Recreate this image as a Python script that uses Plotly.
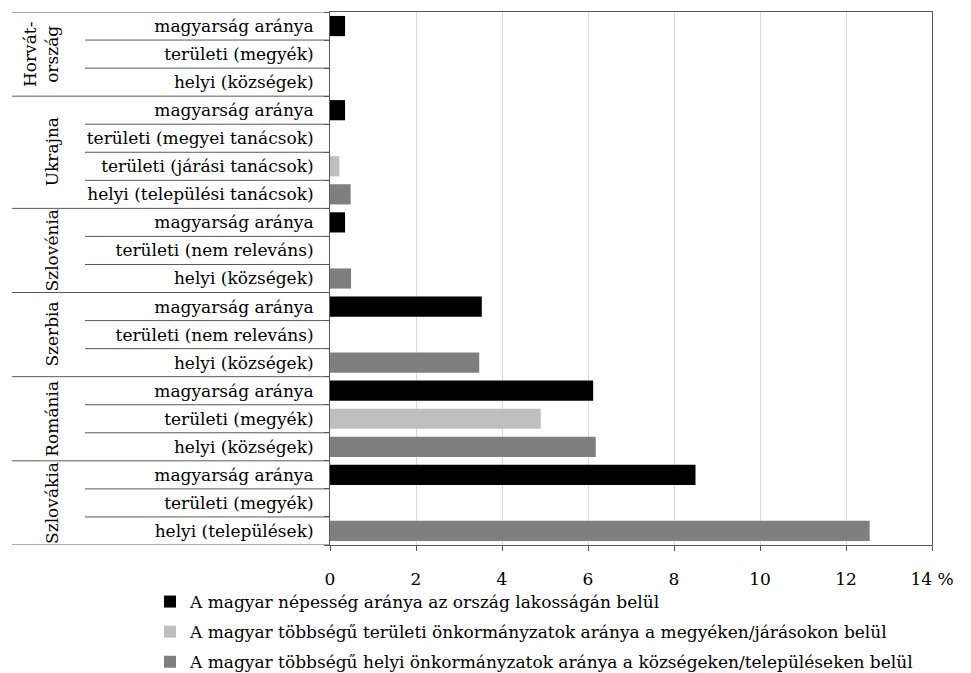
import plotly.graph_objects as go

countries = ["Horvát-<br>ország", "Ukrajna", "Szlovénia", "Szerbia", "Románia", "Szlovákia"]
sub_labels = [
    ["magyarság aránya", "területi (megyék)", "helyi (községek)"],
    ["magyarság aránya", "területi (megyei tanácsok)", "területi (járási tanácsok)", "helyi (települési tanácsok)"],
    ["magyarság aránya", "területi (nem releváns)", "helyi (községek)"],
    ["magyarság aránya", "területi (nem releváns)", "helyi (községek)"],
    ["magyarság aránya", "területi (megyék)", "helyi (községek)"],
    ["magyarság aránya", "területi (megyék)", "helyi (települések)"],
]
# values per row (None = no bar)
pop_share = [
    [0.35, None, None],
    [0.35, None, None, None],
    [0.35, None, None],
    [3.53, None, None],
    [6.12, None, None],
    [8.50, None, None],
]
territorial_share = [
    [None, None, None],
    [None, None, 0.22, None],
    [None, None, None],
    [None, None, None],
    [None, 4.90, None],
    [None, None, None],
]
local_share = [
    [None, None, None],
    [None, None, None, 0.48],
    [None, None, 0.49],
    [None, None, 3.47],
    [None, None, 6.18],
    [None, None, 12.55],
]
series_names = [
    "A magyar népesség aránya az ország lakosságán belül",
    "A magyar többségű területi önkormányzatok aránya a megyéken/járásokon belül",
    "A magyar többségű helyi önkormányzatok aránya a községeken/településeken belül",
]
series_colors = ["#000000", "#bfbfbf", "#7f7f7f"]
x_ticks = [0, 2, 4, 6, 8, 10, 12, 14]
x_ticktext = ["0", "2", "4", "6", "8", "10", "12", "14 %"]

FONT = "DejaVu Serif"
FS = 17
LINE = "#595959"

# flatten rows
labels, rows_pop, rows_ter, rows_loc = [], [], [], []
group_start = []
for g, subs in enumerate(sub_labels):
    group_start.append(len(labels))
    labels += subs
    rows_pop += pop_share[g]
    rows_ter += territorial_share[g]
    rows_loc += local_share[g]
n = len(labels)
ypos = list(range(n))

fig = go.Figure()
for i, (name, vals, col) in enumerate(zip(series_names, [rows_pop, rows_ter, rows_loc], series_colors)):
    fig.add_trace(go.Bar(
        x=vals, y=ypos, orientation="h", name=name, legendgroup=f"g{i}",
        marker=dict(color=col, line=dict(width=0)),
        width=0.72,
    ))

W, H = 971, 673
ml, mr, mt, mb = 330, 39, 12, 128
pw = W - ml - mr

def px2paper(px):
    return (px - ml) / pw

shapes = []
bounds_groups = set(group_start + [n])
for b in range(n + 1):
    long = b in bounds_groups
    shapes.append(dict(
        type="line", xref="paper", yref="y",
        x0=px2paper(12 if long else 85), x1=0,
        y0=b - 0.5, y1=b - 0.5,
        line=dict(color=LINE, width=1),
    ))

annotations = []
for g, c in enumerate(countries):
    start = group_start[g]
    end = group_start[g + 1] if g + 1 < len(group_start) else n
    center = (start + end - 1) / 2
    annotations.append(dict(
        text=c, x=px2paper(41 if "<br>" in c else 52), y=center,
        xref="paper", yref="y", showarrow=False, textangle=-90,
        font=dict(family=FONT, size=FS, color="#000"),
        xanchor="center", yanchor="middle",
    ))

fig.update_layout(
    width=W, height=H,
    margin=dict(l=ml, r=mr, t=mt, b=mb, pad=0, autoexpand=False),
    paper_bgcolor="white", plot_bgcolor="white",
    barmode="overlay",
    font=dict(family=FONT, size=FS, color="#000"),
    shapes=shapes, annotations=annotations,
    showlegend=True,
    legend=dict(
        orientation="v", xref="container", yref="container",
        x=150 / W, y=1 - 584 / H, xanchor="left", yanchor="top",
        font=dict(family=FONT, size=FS, color="#000"),
        traceorder="grouped", itemwidth=30, tracegroupgap=5,
        bgcolor="rgba(0,0,0,0)",
    ),
    xaxis=dict(
        range=[0, 14], tickvals=x_ticks, ticktext=x_ticktext,
        ticks="outside", ticklen=5, tickcolor=LINE,
        showgrid=True, gridcolor="#d9d9d9", gridwidth=1,
        showline=True, linecolor=LINE, linewidth=1, mirror=True,
        zeroline=False, fixedrange=True, automargin=False,
        ticklabelstandoff=14,
    ),
    yaxis=dict(
        range=[n - 0.5, -0.5], tickvals=ypos, ticktext=labels,
        ticks="", showgrid=False, zeroline=False,
        showline=True, linecolor=LINE, linewidth=1, mirror=True,
        ticklabelstandoff=12, automargin=False, fixedrange=True,
        minor=dict(tickvals=[b - 0.5 for b in range(n + 1)], ticks="outside",
                   ticklen=5, tickcolor=LINE, showgrid=False),
    ),
)

fig.write_html("out.html", config={"displayModeBar": False},
               post_script="document.body.style.margin='0';")
